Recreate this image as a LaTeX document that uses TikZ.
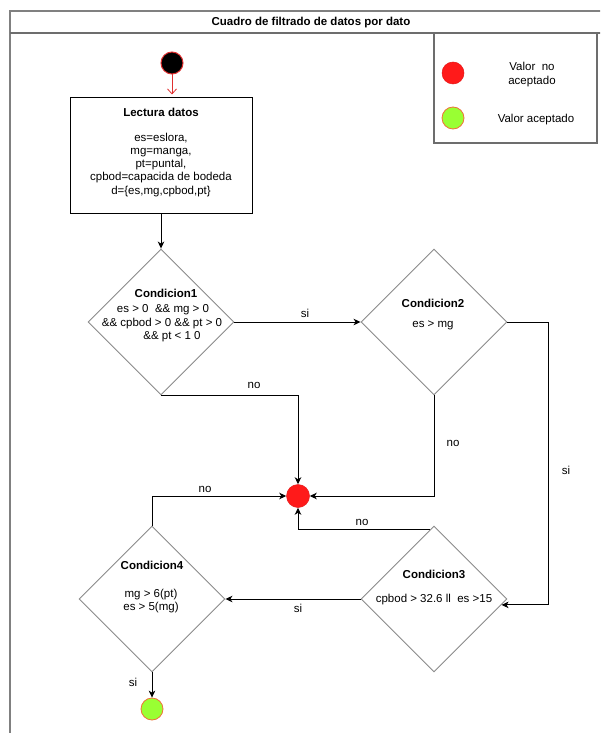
\documentclass[tikz,border=0pt]{standalone}
\usepackage{fontspec}
\setmainfont{Liberation Sans}
\usetikzlibrary{arrows.meta,shapes.geometric,calc}
\definecolor{rejred}{HTML}{FF1A1A}
\definecolor{accgreen}{HTML}{99FF33}
\definecolor{accedge}{HTML}{F0703A}
\definecolor{framegray}{HTML}{808080}
\definecolor{diagray}{HTML}{8A8A8A}
\definecolor{startedge}{HTML}{E03030}
\begin{document}
\begin{tikzpicture}[x=1pt,y=-1pt,
  lbl/.style={font=\fontsize{11.5}{13.5}\selectfont, inner sep=0pt, anchor=base},
  blbl/.style={font=\fontsize{11.5}{13.5}\selectfont\bfseries, inner sep=0pt, anchor=base},
  dia/.style={diamond, draw=diagray, line width=0.9pt, minimum width=146pt, minimum height=146pt, inner sep=0pt, shape aspect=1},
  arr/.style={draw=black, line width=1pt, -{Stealth[length=7pt,width=6.5pt,inset=2pt]}},
  dot/.style={circle, minimum size=23pt, inner sep=0pt}]
\useasboundingbox (0,0) rectangle (600,733);
\clip (0,0) rectangle (600,733);
\fill[white] (0,0) rectangle (600,733);
% frame
\draw[framegray, line width=1.6pt] (10,745) -- (10,11) -- (610,11);
\draw[framegray!85!black, line width=1.2pt] (10,33) -- (610,33);
\draw[framegray!85!black, line width=1.2pt] (434,33) rectangle (597,143);
\node[blbl] (title) at (311,26) {Cuadro de filtrado de datos por dato};
% legend
\node[dot, fill=rejred, draw=rejred!90!black, line width=0.5pt, minimum size=22pt] (legrej) at (453,73) {};
\node[dot, fill=accgreen, draw=accedge, line width=0.8pt, minimum size=22pt] (legacc) at (453,118) {};
\node[lbl] (legrejt1) at (532,71) {Valor\ \ no};
\node[lbl] (legrejt2) at (532,85) {aceptado};
\node[lbl] (legacct) at (536,122) {Valor aceptado};
% start
\node[dot, fill=black, draw=startedge, line width=1pt, minimum size=22pt] (start) at (172,63) {};
% box
\node[draw=black, line width=1pt, minimum width=182pt, minimum height=115pt, inner sep=0pt] (box) at (161,155.5) {};
\node[blbl] (boxt0) at (161,117) {Lectura datos};
\node[lbl] (boxt1) at (161,141) {es=eslora,};
\node[lbl] (boxt2) at (161,154) {mg=manga,};
\node[lbl] (boxt3) at (161,167) {pt=puntal,};
\node[lbl] (boxt4) at (161,180) {cpbod=capacida de bodeda};
\node[lbl] (boxt5) at (161,194) {d=\{es,mg,cpbod,pt\}};
% diamonds
\node[dia] (c1) at (161,322) {};
\node[dia] (c2) at (434,322) {};
\node[dia] (c3) at (434,599) {};
\node[dia] (c4) at (152,599) {};
\node[blbl] (c1t0) at (166,297) {Condicion1};
\node[lbl] (c1t1) at (163,312) {es > 0\ \ \&\& mg > 0};
\node[lbl] (c1t2) at (162,326) {\&\& cpbod > 0 \&\& pt > 0};
\node[lbl] (c1t3) at (172,339) {\&\& pt < 1 0};
\node[blbl] (c2t0) at (433,307) {Condicion2};
\node[lbl] (c2t1) at (433,327) {es > mg};
\node[blbl] (c3t0) at (434,578) {Condicion3};
\node[lbl] (c3t1) at (434,602) {cpbod > 32.6 ll\ \ es >15};
\node[blbl] (c4t0) at (152,569) {Condicion4};
\node[lbl] (c4t1) at (151,597) {mg > 6(pt)};
\node[lbl] (c4t2) at (151,610) {es > 5(mg)};
% end states
\node[dot, fill=rejred, draw=rejred!90!black, line width=0.5pt] (rej) at (298,496) {};
\node[dot, fill=accgreen, draw=accedge, line width=0.8pt, minimum size=22pt] (acc) at (152,709) {};
% connectors
\draw[startedge, line width=0.8pt, -{Straight Barb[length=5pt,width=9pt]}, shorten >=3pt] (start.south) -- (start.south |- box.north);
\draw[arr] (box.south) -- (c1.north);
\draw[arr] (c1.east) -- (c2.west);
\draw[arr] (c1.south) -| (rej.north);
\draw[arr] (c2.south) |- (rej.east);
\draw[arr] (c2.east) -- ++(41,0) |- (c3.-5);
\draw[arr] ($(c3.north)+(-4,4)$) -| (rej.south);
\draw[arr] (c3.west) -- (c4.east);
\draw[arr] (c4.north) |- (rej.west);
\draw[arr] (c4.south) -- (acc.north);
% connector labels
\node[lbl] (l1) at (305,317) {si};
\node[lbl] (l2) at (254,388) {no};
\node[lbl] (l3) at (453,446) {no};
\node[lbl] (l4) at (566,474) {si};
\node[lbl] (l5) at (205,492) {no};
\node[lbl] (l6) at (362,525) {no};
\node[lbl] (l7) at (298,612) {si};
\node[lbl] (l8) at (133,686) {si};
\end{tikzpicture}
\end{document}
